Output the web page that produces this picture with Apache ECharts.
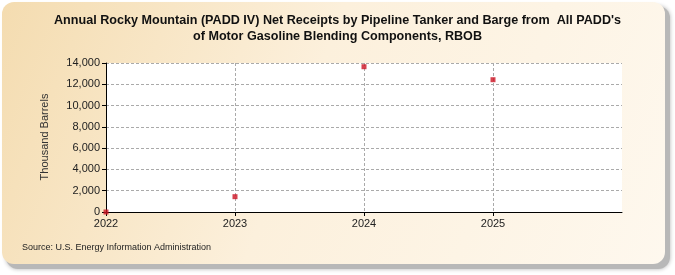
<!DOCTYPE html>
<html><head><meta charset="utf-8">
<script src="https://cdn.jsdelivr.net/npm/echarts@6/dist/echarts.min.js"></script>
<style>html,body{margin:0;padding:0;background:#fff}#c{width:675px;height:275px}</style>
</head><body><div id="c"></div>
<script>
const years = [2022, 2023, 2024, 2025];
const values = [0, 1440, 13650, 12430];
const yTicks = [0, 2000, 4000, 6000, 8000, 10000, 12000, 14000];
const titleText = "Annual Rocky Mountain (PADD IV) Net Receipts by Pipeline Tanker and Barge from  All PADD's\nof Motor Gasoline Blending Components, RBOB";
const yName = "Thousand Barrels";
const sourceText = "Source: U.S. Energy Information Administration";

const chart = echarts.init(document.getElementById('c'), null, {renderer: 'canvas'});
const font = "'Liberation Sans Narrow', 'Liberation Sans', Arial, sans-serif";
chart.setOption({
  animation: false,
  graphic: [
    {type: 'rect', z: -10, shape: {x: 6, y: 6, width: 664, height: 263, r: 12},
     style: {fill: '#b8b8b8', shadowBlur: 4, shadowColor: 'rgba(0,0,0,0.3)'}},
    {type: 'rect', z: -9, shape: {x: 2, y: 2, width: 663, height: 262, r: 12},
     style: {fill: new echarts.graphic.LinearGradient(0, 0, 1, 1, [
       {offset: 0, color: '#f4dcb0'}, {offset: 0.45, color: '#fcf0dc'}, {offset: 1, color: '#fef8ee'}])}},
    {type: 'text', left: 22, top: 243, style: {text: sourceText, font: "9px " + font, fill: '#222'}},
    {type: 'text', rotation: Math.PI / 2, x: 45, y: 137,
     style: {text: yName, font: "11px 'Liberation Sans', Arial, sans-serif", fill: '#333', align: 'center', verticalAlign: 'middle'}}
  ],
  title: {text: titleText, left: 'center', top: 8,
    textStyle: {fontFamily: font, fontSize: 12.6, fontWeight: 'bold', color: '#111', lineHeight: 16}},
  grid: {left: 106, right: 53, top: 63, bottom: 63, backgroundColor: '#fff', show: true, borderWidth: 0},
  xAxis: {type: 'value', min: 2022, max: 2026, interval: 1,
    axisLine: {show: true, onZero: false, lineStyle: {color: '#000', width: 1}},
    axisTick: {show: true, length: 4, lineStyle: {color: '#000'}, customValues: years},
    axisLabel: {color: '#222', fontSize: 11, fontFamily: "'Liberation Sans', Arial, sans-serif", margin: 6,
      customValues: years, formatter: v => String(v)},
    splitLine: {show: true, lineStyle: {color: '#aaa', type: [3, 2]}}},
  yAxis: {type: 'value', min: 0, max: 14000, interval: 2000,
    axisLine: {show: true, lineStyle: {color: '#000', width: 1}},
    axisTick: {show: true, length: 4, lineStyle: {color: '#000'}},
    axisLabel: {color: '#222', fontSize: 11, fontFamily: "'Liberation Sans', Arial, sans-serif", margin: 6,
      formatter: v => v.toLocaleString('en-US')},
    splitLine: {show: true, lineStyle: {color: '#aaa', type: [3, 2]}}},
  series: [{type: 'scatter', symbol: 'rect', symbolSize: 5,
    itemStyle: {color: '#cc1122'},
    data: years.map((y, i) => [y, values[i]])}]
});
</script></body></html>
